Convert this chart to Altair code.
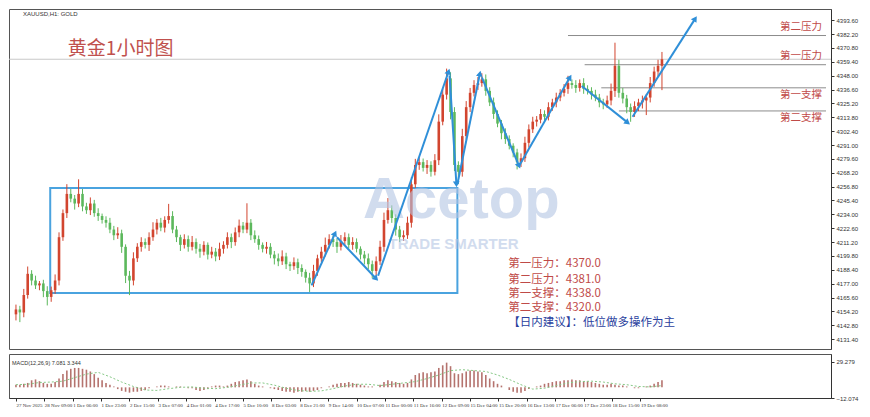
import math
import json
import numpy as np
import pandas as pd
import altair as alt

# ---------------- data ----------------
first_open = 4151.8
close_prices = [
    4155.8, 4153.4, 4167.7, 4185.1, 4179.6, 4175.6, 4177.2, 4170.9, 4166.1, 4171.6,
    4179.6, 4215.2, 4235.0, 4250.8, 4246.9, 4242.9, 4250.8, 4240.5, 4237.4, 4242.9,
    4235.0, 4232.6, 4229.4, 4227.1, 4221.5, 4216.8, 4218.4, 4207.3, 4183.5, 4179.6,
    4197.8, 4207.3, 4211.2, 4208.9, 4215.2, 4221.5, 4227.1, 4223.1, 4229.4, 4232.6,
    4221.5, 4215.2, 4208.9, 4213.6, 4207.3, 4211.2, 4205.7, 4203.3, 4208.9, 4200.9,
    4203.3, 4199.4, 4205.7, 4208.9, 4215.2, 4211.2, 4219.2, 4224.7, 4221.5, 4227.1,
    4216.8, 4213.6, 4208.9, 4205.7, 4207.3, 4200.9, 4197.8, 4195.4, 4199.4, 4193.0,
    4191.4, 4194.6, 4189.9, 4186.7, 4181.9, 4177.2, 4187.5, 4197.8, 4203.3, 4208.9,
    4213.6, 4211.2, 4207.3, 4212.0, 4215.2, 4208.9, 4211.2, 4205.7, 4200.9, 4197.8,
    4193.0, 4187.5, 4195.4, 4207.3, 4229.4, 4237.4, 4231.0, 4221.5, 4215.2, 4216.8,
    4227.1, 4258.7, 4274.6, 4276.9, 4272.2, 4274.6, 4269.0, 4278.5, 4310.2, 4332.4,
    4345.8, 4318.1, 4274.6, 4269.0, 4298.3, 4322.1, 4333.9, 4340.3, 4341.9, 4345.0,
    4335.5, 4326.0, 4316.5, 4308.6, 4300.7, 4295.9, 4290.4, 4284.9, 4276.9, 4280.1,
    4292.8, 4303.9, 4310.2, 4311.8, 4316.5, 4314.2, 4322.1, 4326.0, 4330.0, 4333.9,
    4337.1, 4341.9, 4340.3, 4337.9, 4341.9, 4337.1, 4335.5, 4332.4, 4330.0, 4326.0,
    4324.4, 4327.6, 4335.5, 4356.1, 4333.9, 4329.2, 4322.1, 4318.1, 4322.9, 4326.0,
    4327.6, 4330.0, 4341.9, 4351.4, 4356.1, 4361.5,
]
upper_wick = [
    4, 3, 5, 6, 3, 4, 2, 3, 4, 3,
    5, 4, 3, 8, 4, 3, 12, 4, 3, 5,
    3, 4, 2, 3, 4, 3, 5, 3, 2, 4,
    5, 3, 4, 3, 4, 6, 3, 4, 3, 10,
    4, 3, 2, 4, 3, 5, 3, 4, 3, 2,
    4, 3, 5, 3, 4, 3, 4, 5, 3, 16,
    3, 4, 3, 2, 4, 3, 3, 4, 5, 3,
    2, 4, 3, 3, 2, 4, 5, 3, 4, 6,
    4, 3, 3, 5, 4, 3, 4, 3, 2, 3,
    4, 3, 4, 5, 6, 10, 4, 3, 3, 4,
    5, 6, 5, 4, 3, 4, 3, 5, 6, 5,
    8, 5, 4, 3, 6, 5, 4, 4, 5, 5,
    4, 3, 4, 3, 3, 4, 3, 2, 3, 4,
    5, 4, 4, 3, 4, 3, 4, 3, 4, 3,
    4, 6, 3, 4, 3, 4, 3, 3, 4, 3,
    3, 4, 6, 19, 5, 4, 3, 3, 4, 3,
    4, 3, 5, 4, 5, 6,
]
lower_wick = [
    5, 8, 4, 3, 4, 3, 4, 5, 7, 4,
    3, 4, 3, 4, 3, 5, 3, 4, 3, 4,
    3, 4, 3, 4, 3, 4, 3, 5, 6, 12,
    4, 3, 4, 3, 5, 3, 4, 3, 4, 3,
    3, 4, 5, 3, 4, 3, 4, 5, 3, 4,
    3, 4, 3, 4, 3, 5, 3, 4, 3, 3,
    4, 3, 4, 3, 4, 3, 5, 4, 3, 4,
    4, 3, 5, 4, 4, 7, 3, 4, 3, 4,
    3, 4, 5, 3, 4, 3, 4, 3, 4, 5,
    4, 6, 4, 3, 4, 3, 4, 5, 4, 3,
    3, 4, 3, 4, 3, 5, 4, 3, 4, 3,
    4, 6, 5, 10, 4, 3, 4, 3, 4, 3,
    4, 3, 4, 3, 5, 4, 3, 4, 6, 4,
    3, 4, 3, 4, 3, 4, 3, 3, 4, 3,
    3, 4, 3, 4, 3, 4, 3, 4, 3, 4,
    4, 3, 4, 5, 4, 4, 5, 8, 4, 4,
    5, 12, 4, 3, 4, 20,
]
macd_hist = [
    3, 3, 4, 5, 8, 9, 7, 5, 4, 4, 6, 10,
    15, 19, 21, 22, 22, 21, 20, 18, 15,
    11, 8, 5, 3, 1, -2, -4, -5, -6, -5, -5, -4, -3,
    -1, 0, 1, 2, 2, 1, 0, 1, 1, 0, -1, -1,
    -3, -4, -3, -2, 1, 2, 2, 1, 2, 4, 6, 7, 8, 9, 7,
    4, 2, 1, 0, -1, -2, -3, -4, -5, -5, -6, -5, -5, -4, -5, -4, -3,
    -1, 0, 1, 3, 4, 5, 5, 6, 5, 4, 3, 2, 1, 1, 0,
    3, 6, 8, 7, 6, 5, 4, 5, 9,
    14, 16, 17, 16, 17, 18, 22, 25, 28, 24, 16, 15, 16,
    18, 19, 19, 18, 17, 14, 10, 7, 4, 2, 0,
    -3, -5, -6, -6, -4, -2, 0, 1, 2,
    4, 5, 6, 7, 7, 8, 8, 9, 8, 8, 7, 7, 6, 5, 4,
    3, 3, 4, 3, 2, 2, 1, 0, -1, -1, 0, 1, 2, 4, 6, 8,
]
signal_idx = list(range(0, 166, 3))
signal_val = [
    3, 3.5, 5.5, 6, 7, 11, 15, 17, 12, 6,
    1, -3, -3.5, -1.5, 0, 0.5, -1, -1.5, 0, 2.5,
    5, 5, 2.5, -1, -3.5, -4.5, -4, -1.5, 1.5, 3.5,
    3.5, 2, 3.5, 5, 6.5, 10, 14, 19, 20, 19,
    18, 14, 9, 3, -2, -1, 2, 5, 6.5, 7,
    6, 4, 3, 1, 0.5, 2,
]
x_labels = [
    "27 Nov 2025", "28 Nov 09:00", "1 Dec 06:00", "1 Dec 23:00", "2 Dec 15:00",
    "3 Dec 07:00", "4 Dec 01:00", "4 Dec 17:00", "5 Dec 10:00", "8 Dec 03:00",
    "8 Dec 21:00", "9 Dec 14:00", "10 Dec 07:00", "11 Dec 00:00", "11 Dec 16:00",
    "12 Dec 09:00", "15 Dec 04:00", "15 Dec 20:00", "16 Dec 13:00", "17 Dec 06:00",
    "17 Dec 23:00", "18 Dec 15:00", "19 Dec 08:00",
]
x_label_step = 7.25
price_ticks = [round(4131.4 + 11.4 * k, 2) for k in range(24)]
macd_ticks = [29.279, -12.074]

level_names = ["第二压力", "第一压力", "第一支撑", "第二支撑"]
level_prices = [4381.0, 4357.0, 4338.0, 4319.0]
level_start = [141, 145.25, 149.5, 154]
level_label_prices = [4387.8, 4364.0, 4332.4, 4313.4]

info_lines = ["第一压力：4370.0", "第二压力：4381.0", "第一支撑：4338.0", "第二支撑：4320.0",
              "【日内建议】：低位做多操作为主"]
info_prices = [4193.0, 4180.4, 4168.5, 4156.6, 4144.7]

box = {"x": 8.75, "x2": 112.75, "y": 4169.3, "y2": 4255.6}

arrow_x = [75.5, 82.0, 92.5, 110.75, 112.75, 119.0, 128.5, 144.5, 157.5]
arrow_y = [4175.6, 4215.2, 4183.5, 4348.2, 4258.7, 4346.6, 4273.8, 4339.5, 4314.2]
arrow_x2 = [81.5, 92.0, 110.5, 112.5, 118.5, 128.5, 141.5, 156.25, 173.5]
arrow_y2 = [4218.4, 4181.1, 4351.4, 4258.7, 4349.8, 4273.8, 4346.6, 4309.4, 4394.9]

# ---------------- layout / style ----------------
W, H_PRICE, H_MACD = 822, 340, 44
X_DOMAIN = [-0.5, 206.9]
Y_DOMAIN = [4123.3, 4402.8]
M_DOMAIN = [-12.074, 37.8]
UP, DOWN = "#d2452f", "#5cb85c"
RED_TXT = "#bf4a48"
BLUE = "#2f8fd8"
CJK = "Noto Sans CJK SC"
LAT = "Liberation Sans"
NARROW = "Liberation Sans Narrow"

n = len(close_prices)
opens = [first_open] + close_prices[:-1]
highs = [max(o, c) + u for o, c, u in zip(opens, close_prices, upper_wick)]
lows = [min(o, c) - l for o, c, l in zip(opens, close_prices, lower_wick)]
candles = pd.DataFrame({"i": list(range(n)), "open": opens, "close": close_prices,
                        "high": highs, "low": lows})
candles["dir"] = np.where(candles["close"] >= candles["open"], "up", "down")

sx = W / (X_DOMAIN[1] - X_DOMAIN[0])
sy = H_PRICE / (Y_DOMAIN[1] - Y_DOMAIN[0])
arrows = pd.DataFrame({"x": arrow_x, "y": arrow_y, "x2": arrow_x2, "y2": arrow_y2})
arrows["angle"] = [
    math.degrees(math.atan2((b - a) * sx, (d - c) * sy)) % 360
    for a, b, c, d in zip(arrow_x, arrow_x2, arrow_y, arrow_y2)
]

xs = alt.Scale(domain=X_DOMAIN, nice=False, zero=False)
ys = alt.Scale(domain=Y_DOMAIN, nice=False, zero=False)
ms = alt.Scale(domain=M_DOMAIN, nice=False, zero=False)

y_axis = alt.Axis(orient="right", values=price_ticks, format=".2f", title=None,
                  labelFontSize=6, labelFont=LAT, tickSize=3, grid=False, labelPadding=2,
                  domainColor="#333", tickColor="#333", labelColor="#333")
col = alt.Color("dir:N", scale=alt.Scale(domain=["up", "down"], range=[UP, DOWN]), legend=None)


def X(f):
    return alt.X(f"{f}:Q", scale=xs, axis=None)


def Y(f):
    return alt.Y(f"{f}:Q", scale=ys, axis=y_axis)


base = alt.Chart(candles)

box_layer = alt.Chart(pd.DataFrame([box])).mark_rect(
    fillOpacity=0, stroke="#4aa3df", strokeWidth=2
).encode(x=X("x"), x2="x2", y=Y("y"), y2="y2")

cur_line = alt.Chart(pd.DataFrame({"p": [close_prices[-1]]})).mark_rule(
    color="#c8c8c8", strokeWidth=1
).encode(x=alt.value(0), x2=alt.value(W), y=Y("p"))

levels = pd.DataFrame({"name": level_names, "p": level_prices, "x": level_start,
                       "x2": [X_DOMAIN[1]] * 4, "lp": level_label_prices})
level_rules = alt.Chart(levels).mark_rule(color="#8c8c8c", strokeWidth=1).encode(
    x=X("x"), x2="x2", y=Y("p"))
level_text = alt.Chart(levels).mark_text(
    align="right", baseline="middle", fontSize=10.5, font=CJK, color=RED_TXT, dx=-4
).encode(x=X("x2"), y=Y("lp"), text="name:N")

wicks = base.mark_rule(strokeWidth=1).encode(x=X("i"), y=Y("low"), y2="high", color=col)
bodies = base.mark_bar(size=2.6).encode(x=X("i"), y=Y("open"), y2="close", color=col)

arrow_lines = alt.Chart(arrows).mark_rule(color=BLUE, strokeWidth=2).encode(
    x=X("x"), y=Y("y"), x2="x2", y2="y2")
arrow_heads = alt.Chart(arrows).mark_point(
    shape="triangle-up", filled=True, size=45, opacity=1, color=BLUE
).encode(x=X("x2"), y=Y("y2"), angle=alt.Angle("angle:Q", scale=None))

wm = pd.DataFrame({"t": ["Acetop", "TRADE SMARTER"], "x": [113.75, 111.75],
                   "y": [4245.0, 4209.5], "s": [58, 15]})
watermark = alt.Chart(wm).mark_text(
    font=LAT, fontWeight="bold", color="#b4c5e4", opacity=0.6, baseline="middle", align="center"
).encode(x=X("x"), y=Y("y"), text="t:N", size=alt.Size("s:Q", scale=None, legend=None))

info = pd.DataFrame({"t": info_lines, "p": info_prices,
                     "c": [RED_TXT] * 4 + ["#2b3f9e"], "x": [125.75] * 5})
info_text = alt.Chart(info).mark_text(
    align="left", baseline="middle", fontSize=11.5, font=CJK
).encode(x=X("x"), y=Y("p"), text="t:N", color=alt.Color("c:N", scale=None))

title_text = alt.Chart(pd.DataFrame({"t": ["黄金1小时图"], "x": [13.25], "p": [4369.6]})).mark_text(
    align="left", baseline="middle", fontSize=19, font=CJK, color="#c0504d"
).encode(x=X("x"), y=Y("p"), text="t:N")

sym_text = alt.Chart(pd.DataFrame({"t": ["XAUUSD,H1: GOLD"]})).mark_text(
    align="left", baseline="middle", fontSize=6, font=LAT, color="#333"
).encode(x=alt.value(14), y=alt.value(5), text="t:N")

price = alt.layer(
    box_layer, cur_line, level_rules, wicks, bodies, watermark, arrow_lines, arrow_heads,
    level_text, info_text, title_text, sym_text
).properties(width=W, height=H_PRICE)

# ---------------- MACD panel ----------------
hist = pd.DataFrame({"i": list(range(len(macd_hist))), "v": macd_hist, "zero": 0})
sig = pd.DataFrame({"i": signal_idx, "v": signal_val})
label_expr = f"{json.dumps(x_labels, ensure_ascii=False)}[round(datum.value / {x_label_step})]"
x_axis = alt.Axis(values=[k * x_label_step for k in range(len(x_labels))], labelExpr=label_expr,
                  labelAlign="left", labelFontSize=5, labelFont=NARROW, tickSize=3, labelPadding=1,
                  title=None, labelOverlap=False, grid=False, domainColor="#333",
                  tickColor="#333", labelColor="#333")
m_axis = alt.Axis(orient="right", values=macd_ticks, format=".3f", title=None, labelFontSize=6,
                  labelFont=LAT, tickSize=3, grid=False, labelPadding=2, domainColor="#333",
                  tickColor="#333", labelColor="#333")

hist_bars = alt.Chart(hist).mark_bar(size=1.6, color="#b5736e").encode(
    x=alt.X("i:Q", scale=xs, axis=x_axis), y=alt.Y("v:Q", scale=ms, axis=m_axis), y2="zero")
sig_line = alt.Chart(sig).mark_line(color="#86c986", strokeDash=[2, 2], strokeWidth=1).encode(
    x=alt.X("i:Q", scale=xs, axis=x_axis), y=alt.Y("v:Q", scale=ms, axis=m_axis))
macd_text = alt.Chart(pd.DataFrame({"t": ["MACD(12,26,9) 7.081 3.344"]})).mark_text(
    align="left", baseline="middle", fontSize=5.5, font=LAT, color="#333"
).encode(x=alt.value(3), y=alt.value(9), text="t:N")

macd = alt.layer(hist_bars, sig_line, macd_text).properties(width=W, height=H_MACD)

chart = alt.vconcat(price, macd, spacing=3).properties(
    padding={"left": 0, "right": 0, "top": 0, "bottom": 0}
).configure_view(stroke="#555", strokeWidth=1)

chart.save("out.html", embed_options={"renderer": "svg", "actions": False})
